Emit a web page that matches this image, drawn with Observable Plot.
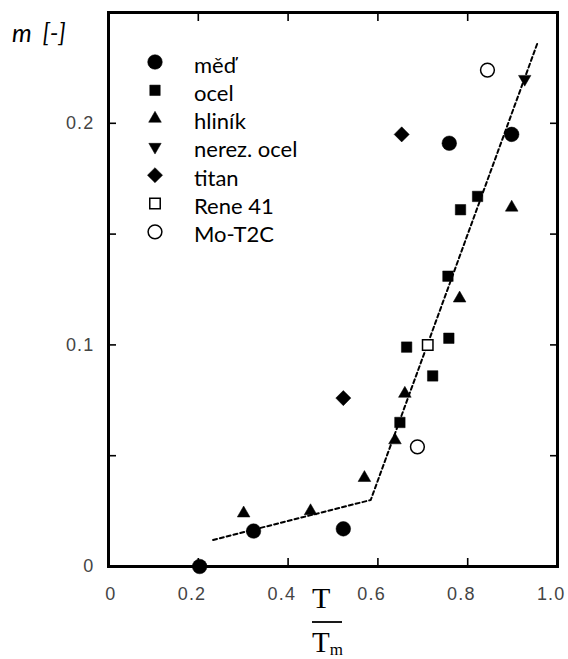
<!DOCTYPE html>
<html><head><meta charset="utf-8">
<script src="https://cdn.jsdelivr.net/npm/d3@7"></script>
<script src="https://cdn.jsdelivr.net/npm/@observablehq/plot@0.6"></script>
<style>
body{margin:0;background:#fff;}
#chart{position:relative;width:568px;height:659px;}
g[aria-label="x-axis tick label"] text, g[aria-label="y-axis tick label"] text{letter-spacing:1.2px;}
</style></head><body><div id="chart"></div>
<script>
// ---- data ----
const seriesNames = ["měď", "ocel", "hliník", "nerez. ocel", "titan", "Rene 41", "Mo-T2C"];
const medX = [0.203, 0.323, 0.523, 0.759, 0.898];
const medY = [0.000, 0.016, 0.017, 0.191, 0.195];
const ocelX = [0.784, 0.822, 0.756, 0.664, 0.758, 0.722, 0.649];
const ocelY = [0.161, 0.167, 0.131, 0.099, 0.103, 0.086, 0.065];
const hlinikX = [0.301, 0.450, 0.570, 0.638, 0.660, 0.782, 0.898];
const hlinikY = [0.024, 0.025, 0.040, 0.057, 0.078, 0.121, 0.162];
const nerezX = [0.927];
const nerezY = [0.220];
const titanX = [0.653, 0.523];
const titanY = [0.195, 0.076];
const reneX = [0.711];
const reneY = [0.100];
const moX = [0.844, 0.688];
const moY = [0.224, 0.054];
const fitX = [0.233, 0.584, 0.955];
const fitY = [0.012, 0.030, 0.236];
const xTicks = [0, 0.2, 0.4, 0.6, 0.8, 1.0];
const xTickLabels = ["0", "0.2", "0.4", "0.6", "0.8", "1.0"];
const yTicks = [0, 0.1, 0.2];
const yTickLabels = ["0", "0.1", "0.2"];
const xMinorTicks = [0.2, 0.4, 0.6, 0.8];
const yMinorTicks = [0.05, 0.1, 0.15, 0.2];

// ---- helpers ----
const triangleDown = {
  draw(ctx, size) {
    d3.symbolTriangle.draw({
      moveTo: (x, y) => ctx.moveTo(x, -y),
      lineTo: (x, y) => ctx.lineTo(x, -y),
      closePath: () => ctx.closePath()
    }, size);
  }
};
const styles = [
  {symbol: "circle", r: 7.3, filled: true},
  {symbol: "square", r: 5.9, filled: true},
  {symbol: "triangle", r: 4.7, filled: true},
  {symbol: triangleDown, r: 4.6, filled: true},
  {symbol: "diamond2", r: 6.8, filled: true},
  {symbol: "square", r: 5.9, filled: false},
  {symbol: "circle", r: 6.9, filled: false}
];
const xs = [medX, ocelX, hlinikX, nerezX, titanX, reneX, moX];
const ys = [medY, ocelY, hlinikY, nerezY, titanY, reneY, moY];
const rows = (X, Y) => X.map((x, i) => ({x, y: Y[i]}));

const dotMarks = styles.map((s, k) => Plot.dot(rows(xs[k], ys[k]), {
  x: "x", y: "y", symbol: s.symbol, r: s.r,
  fill: s.filled ? "black" : "white",
  stroke: "black", strokeWidth: s.filled ? 0.5 : 1.5
}));

const tickOnly = {tickSize: -8, strokeWidth: 1.6, tickFormat: () => "", label: null};

const plot = Plot.plot({
  width: 568, height: 659,
  marginLeft: 108, marginRight: 11, marginTop: 12, marginBottom: 93,
  style: {background: "transparent", fontFamily: "Liberation Sans, Arial, sans-serif", fontSize: "18px"},
  x: {domain: [0, 1], label: null},
  y: {domain: [0, 0.25], label: null},
  marks: [
    Plot.axisX(xMinorTicks, {anchor: "bottom", ...tickOnly}),
    Plot.axisX(xMinorTicks, {anchor: "top", ...tickOnly}),
    Plot.axisY(yMinorTicks, {anchor: "left", ...tickOnly}),
    Plot.axisY(yMinorTicks, {anchor: "right", ...tickOnly}),
    Plot.axisX(xTicks, {anchor: "bottom", tickSize: 0, tickPadding: 21, textAnchor: "end", dx: 8,
      fontSize: 18, fill: "#444", label: null, tickFormat: d => xTickLabels[xTicks.indexOf(d)]}),
    Plot.axisY(yTicks, {anchor: "left", tickSize: 0, tickPadding: 14,
      fontSize: 18, fill: "#444", label: null, tickFormat: d => yTickLabels[yTicks.indexOf(d)]}),
    Plot.line(rows(fitX, fitY), {x: "x", y: "y", stroke: "black", strokeWidth: 2, strokeDasharray: "4,3"}),
    ...dotMarks,
    Plot.frame({stroke: "black", strokeWidth: 3})
  ]
});

const svg = d3.select(plot);
// y-axis title
svg.append("text").attr("x", 12).attr("y", 42).attr("text-anchor", "start")
  .attr("font-family", "Lato, sans-serif").attr("font-style", "italic").attr("font-size", 25)
  .attr("word-spacing", 5).attr("fill", "black").text("m [-]");

// legend
const lg = svg.append("g").attr("aria-label", "legend").attr("text-anchor", "start");
seriesNames.forEach((name, i) => {
  const cy = 62 + 28.3 * i;
  const s = styles[i];
  const sym = typeof s.symbol === "string"
    ? {circle: d3.symbolCircle, square: d3.symbolSquare, triangle: d3.symbolTriangle, diamond2: d3.symbolDiamond2}[s.symbol]
    : s.symbol;
  lg.append("path")
    .attr("transform", `translate(155,${cy})`)
    .attr("d", d3.symbol(sym, Math.PI * s.r * s.r)())
    .attr("fill", s.filled ? "black" : "white")
    .attr("stroke", "black").attr("stroke-width", s.filled ? 0.5 : 1.5);
  lg.append("text").attr("x", 194).attr("y", cy + 10.5)
    .attr("font-family", "Lato, sans-serif").attr("font-size", 22).attr("fill", "black")
    .text(name);
});

// x-axis title: T / T_m
const fx = svg.append("g").attr("aria-label", "x-axis label").attr("text-anchor", "start")
  .attr("font-family", "Liberation Serif, serif").attr("fill", "black");
fx.append("text").attr("x", 312).attr("y", 608).attr("font-size", 30).text("T");
fx.append("line").attr("x1", 312).attr("x2", 342).attr("y1", 622).attr("y2", 622)
  .attr("stroke", "black").attr("stroke-width", 1.8);
const tm = fx.append("text").attr("x", 312).attr("y", 652).attr("font-size", 29);
tm.append("tspan").text("T");
tm.append("tspan").attr("font-size", 17).attr("dy", 3).text("m");

document.getElementById("chart").appendChild(plot);
</script>
</body></html>
